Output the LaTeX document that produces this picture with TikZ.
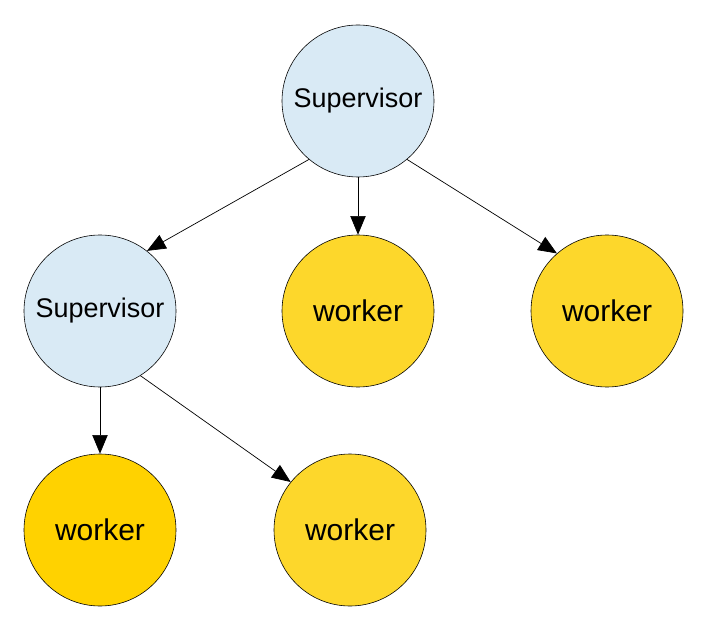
\documentclass[tikz,border=0pt]{standalone}
\usepackage{fontspec}
\setmainfont{Liberation Sans}
\usepackage{tikz}
\usetikzlibrary{arrows.meta}

\definecolor{supblue}{HTML}{D9EAF5}
\definecolor{workyellow}{HTML}{FDD72B}
\definecolor{workgold}{HTML}{FFD200}

\begin{document}
\begin{tikzpicture}[x=0.03cm, y=-0.03cm,
        supnode/.style={circle, draw, line width=0.5pt, fill=supblue, minimum size=4.56cm, inner sep=0pt, font=\fontsize{23}{26}\selectfont},
        worknode/.style={circle, draw, line width=0.5pt, fill=workyellow, minimum size=4.56cm, inner sep=0pt, font=\fontsize{25.6}{29}\selectfont},
        link/.style={-{Triangle[length=5.6mm, width=4.6mm]}, line width=0.6pt}]
    \useasboundingbox (0,0) rectangle (708,629);

    \node[supnode] (top) at (358,101) {Supervisor};
    \node[supnode] (sub) at (100,311) {Supervisor};
    \node[worknode] (wa) at (358,311) {worker};
    \node[worknode] (wb) at (607,311) {worker};
    \node[worknode, fill=workgold] (wc) at (100,530) {worker};
    \node[worknode] (wd) at (350,530) {worker};

    \draw[link] (top.230) -- (sub.52);
    \draw[link] (top.south) -- (wa.north);
    \draw[link] (top.310) -- (wb.131);
    \draw[link] (sub.south) -- (wc.north);
    \draw[link] (sub.302) -- (wd.141);
\end{tikzpicture}
\end{document}
